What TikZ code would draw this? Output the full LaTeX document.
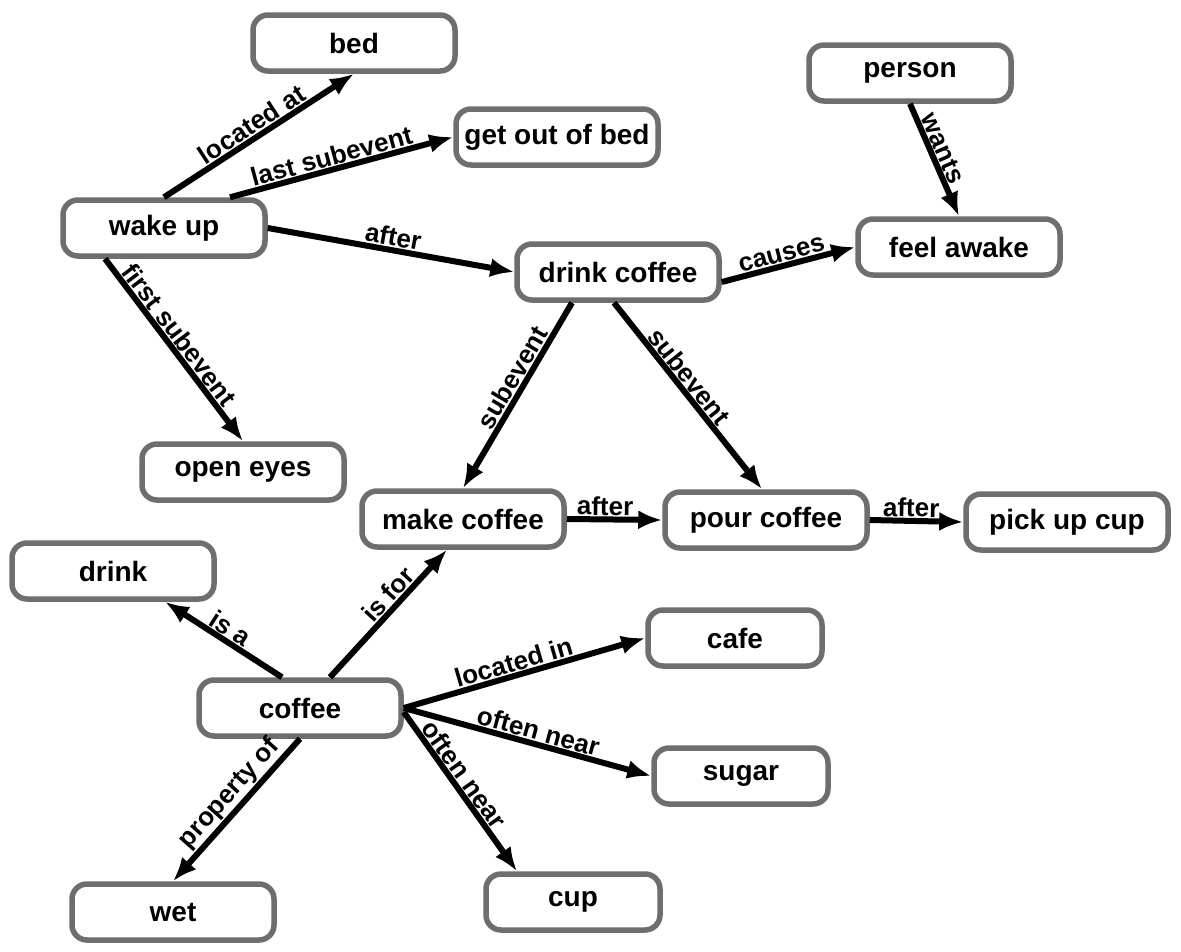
\documentclass[tikz,border=0pt]{standalone}
\usepackage{fontspec}
\setmainfont{Liberation Sans}
\usetikzlibrary{arrows.meta}
\definecolor{boxgray}{RGB}{110,110,110}

\begin{document}
\begin{tikzpicture}[x=1pt,y=-1pt,
  concept/.style={draw=boxgray, line width=5.5pt, rounded corners=15pt, fill=white,
    minimum width=202pt, minimum height=56pt, font=\fontsize{28}{30}\selectfont\bfseries},
  short/.style={concept, minimum width=174pt},
  rel/.style={line width=6pt, -{Latex[length=24pt,width=19pt]}},
  lab/.style={sloped, above, inner sep=1pt, font=\fontsize{26}{28}\selectfont\bfseries}]
  \fill[white] (0,0) rectangle (1181,951);
  \useasboundingbox (0,0) rectangle (1181,951);

  \node[concept] (bed) at (354,43) {bed};
  \node[concept] (getout) at (557,137) {get out of bed};
  \node[concept] (person) at (910,73) {person};
  \node[concept] (wake) at (164,228) {wake up};
  \node[concept] (awake) at (959,247) {feel awake};
  \node[concept] (drinkc) at (618,272) {drink coffee};
  \node[concept] (eyes) at (243,472) {open eyes};
  \node[concept] (make) at (463,519) {make coffee};
  \node[concept] (pour) at (766,520) {pour coffee};
  \node[concept] (pickup) at (1067,522) {pick up cup};
  \node[concept] (drink) at (113,571) {drink};
  \node[short] (cafe) at (735,638) {cafe};
  \node[concept] (coffee) at (300,708) {coffee};
  \node[short] (sugar) at (741,776) {sugar};
  \node[short] (cup) at (573,902) {cup};
  \node[concept] (wet) at (173,912) {wet};

  \draw[rel] (wake.north) -- node[lab,pos=0.5]{located at} (bed.south);
  \draw[rel] ([xshift=66pt]wake.north) -- node[lab,pos=0.47]{last subevent} (getout.west);
  \draw[rel] (wake.east) -- node[lab,pos=0.5]{after} (drinkc.west);
  \draw[rel] ([xshift=-59pt]wake.south) -- node[lab,pos=0.46]{first subevent} (eyes.north);
  \draw[rel] ([yshift=-10pt]drinkc.east) -- node[lab,pos=0.47]{causes} (awake.west);
  \draw[rel] (person.south) -- node[lab,pos=0.44]{wants} (awake.north);
  \draw[rel] ([xshift=-46pt]drinkc.south) -- node[lab,pos=0.44]{subevent} (make.north);
  \draw[rel] ([xshift=-4pt]drinkc.south) -- node[lab,pos=0.44]{subevent} ([xshift=-4pt]pour.north);
  \draw[rel] (make.east) -- node[lab,pos=0.4]{after} (pour.west);
  \draw[rel] (pour.east) -- node[lab,pos=0.44]{after} (pickup.west);
  \draw[rel] ([xshift=-18pt]coffee.north) -- node[lab,pos=0.5]{is a} ([xshift=52pt]drink.south);
  \draw[rel] ([xshift=30pt]coffee.north) -- node[lab,pos=0.58]{is for} ([xshift=-16pt]make.south);
  \draw[rel] (coffee.east) -- node[lab,pos=0.47]{located in} (cafe.west);
  \draw[rel] (coffee.east) -- node[lab,pos=0.53]{often near} (sugar.west);
  \draw[rel] ([yshift=-4pt]coffee.east) -- node[lab,pos=0.44]{often near} ([xshift=-56pt]cup.north);
  \draw[rel] (coffee.south) -- node[lab,pos=0.46]{property of} (wet.north);
\end{tikzpicture}
\end{document}
